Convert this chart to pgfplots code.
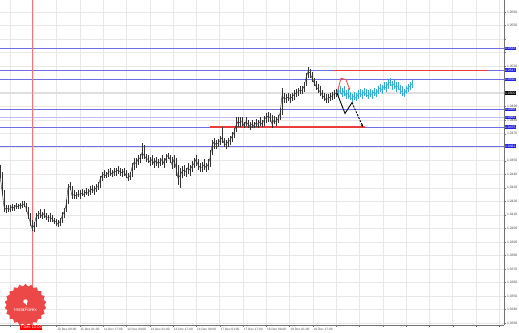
\documentclass[border=0pt]{standalone}
\usepackage{pgfplots}
\pgfplotsset{compat=1.18}
\usepackage{pgfplotstable}
\usepackage{fontspec}
\setmainfont{Liberation Sans}
\usetikzlibrary{arrows.meta,shapes.geometric}
\definecolor{lvl}{RGB}{110,110,235}
\definecolor{boxblue}{RGB}{35,35,225}
\definecolor{redln}{RGB}{235,60,60}
\definecolor{redfc}{RGB}{240,80,80}
\definecolor{cyanfc}{RGB}{55,170,205}
\definecolor{gridc}{RGB}{232,232,232}
\definecolor{logo}{RGB}{236,72,72}
\definecolor{vred}{RGB}{240,120,120}
\newcommand\bb[1]{{\setlength{\fboxsep}{0.6bp}\colorbox{boxblue}{\textcolor{white}{#1}}}}
\newcommand\kb[1]{{\setlength{\fboxsep}{0.6bp}\colorbox{black}{\textcolor{white}{#1}}}}

\pgfplotstableread{
x c h l
0 1.0439 1.0447 1.0437
2 1.0428 1.0442 1.0425
4 1.0416 1.0428 1.0412
6 1.0414 1.0417 1.0411
8 1.0415 1.0417 1.0412
10 1.0414 1.0417 1.0412
12 1.0416 1.0418 1.0413
14 1.0415 1.0417 1.0413
16 1.0417 1.0419 1.0414
18 1.0416 1.0418 1.0414
20 1.0417 1.0419 1.0414
22 1.0417 1.0420 1.0415
24 1.0418 1.0420 1.0416
26 1.0415 1.0419 1.0412
28 1.0410 1.0416 1.0407
30 1.0405 1.0411 1.0402
32 1.0400 1.0406 1.0398
34 1.0402 1.0405 1.0397
36 1.0408 1.0411 1.0401
38 1.0410 1.0413 1.0407
40 1.0411 1.0414 1.0408
42 1.0409 1.0412 1.0407
44 1.0411 1.0414 1.0408
46 1.0408 1.0411 1.0406
48 1.0408 1.0410 1.0405
50 1.0408 1.0411 1.0405
52 1.0407 1.0410 1.0405
54 1.0405 1.0408 1.0403
56 1.0405 1.0407 1.0402
58 1.0403 1.0406 1.0401
60 1.0405 1.0408 1.0402
62 1.0409 1.0412 1.0404
64 1.0412 1.0415 1.0408
66 1.0417 1.0421 1.0412
68 1.0430 1.0433 1.0418
70 1.0431 1.0434 1.0428
72 1.0424 1.0431 1.0422
74 1.0425 1.0428 1.0422
76 1.0424 1.0427 1.0422
78 1.0425 1.0428 1.0423
80 1.0425 1.0428 1.0422
82 1.0426 1.0429 1.0424
84 1.0425 1.0428 1.0423
86 1.0427 1.0430 1.0425
88 1.0426 1.0429 1.0424
90 1.0428 1.0431 1.0425
92 1.0429 1.0432 1.0426
94 1.0428 1.0431 1.0425
96 1.0430 1.0433 1.0427
98 1.0431 1.0434 1.0428
100 1.0436 1.0439 1.0430
102 1.0439 1.0442 1.0435
104 1.0440 1.0443 1.0437
106 1.0439 1.0442 1.0437
108 1.0441 1.0444 1.0438
110 1.0442 1.0445 1.0439
112 1.0440 1.0443 1.0438
114 1.0442 1.0445 1.0439
116 1.0442 1.0445 1.0439
118 1.0443 1.0446 1.0440
120 1.0442 1.0445 1.0439
122 1.0441 1.0444 1.0438
124 1.0442 1.0445 1.0439
126 1.0439 1.0443 1.0437
128 1.0437 1.0441 1.0435
130 1.0439 1.0442 1.0436
132 1.0445 1.0448 1.0438
134 1.0449 1.0452 1.0443
136 1.0448 1.0452 1.0445
138 1.0451 1.0454 1.0447
140 1.0452 1.0455 1.0448
142 1.0456 1.0463 1.0451
144 1.0454 1.0462 1.0451
146 1.0452 1.0455 1.0449
148 1.0451 1.0454 1.0448
150 1.0449 1.0453 1.0446
152 1.0451 1.0454 1.0447
154 1.0448 1.0452 1.0445
156 1.0450 1.0453 1.0446
158 1.0448 1.0451 1.0445
160 1.0449 1.0452 1.0446
162 1.0451 1.0454 1.0447
164 1.0448 1.0452 1.0445
166 1.0452 1.0455 1.0448
168 1.0454 1.0456 1.0451
170 1.0451 1.0454 1.0448
172 1.0447 1.0453 1.0444
174 1.0451 1.0454 1.0445
176 1.0445 1.0452 1.0439
178 1.0437 1.0447 1.0432
180 1.0439 1.0445 1.0430
182 1.0442 1.0446 1.0437
184 1.0443 1.0447 1.0439
186 1.0442 1.0445 1.0438
188 1.0445 1.0448 1.0440
190 1.0443 1.0447 1.0439
192 1.0446 1.0450 1.0442
194 1.0448 1.0452 1.0445
196 1.0451 1.0454 1.0446
198 1.0447 1.0451 1.0443
200 1.0445 1.0448 1.0442
202 1.0445 1.0449 1.0442
204 1.0447 1.0451 1.0443
206 1.0445 1.0448 1.0442
208 1.0447 1.0451 1.0443
210 1.0452 1.0458 1.0445
212 1.0461 1.0465 1.0454
214 1.0464 1.0467 1.0459
216 1.0462 1.0465 1.0459
218 1.0463 1.0466 1.0460
220 1.0465 1.0468 1.0462
222 1.0467 1.0475 1.0463
224 1.0463 1.0467 1.0460
226 1.0462 1.0465 1.0459
228 1.0464 1.0467 1.0460
230 1.0465 1.0468 1.0462
232 1.0468 1.0471 1.0464
234 1.0471 1.0474 1.0467
236 1.0476 1.0482 1.0471
238 1.0479 1.0482 1.0475
240 1.0478 1.0482 1.0475
242 1.0479 1.0482 1.0476
244 1.0476 1.0479 1.0474
246 1.0479 1.0482 1.0476
248 1.0477 1.0480 1.0474
250 1.0476 1.0479 1.0473
252 1.0477 1.0480 1.0474
254 1.0476 1.0479 1.0474
256 1.0478 1.0481 1.0475
258 1.0477 1.0480 1.0474
260 1.0479 1.0482 1.0476
262 1.0477 1.0480 1.0475
264 1.0480 1.0483 1.0476
266 1.0482 1.0485 1.0478
268 1.0483 1.0486 1.0479
270 1.0482 1.0485 1.0479
272 1.0477 1.0484 1.0474
274 1.0480 1.0483 1.0477
276 1.0479 1.0482 1.0476
278 1.0481 1.0484 1.0478
280 1.0485 1.0489 1.0480
282 1.0498 1.0504 1.0484
284 1.0496 1.0500 1.0493
286 1.0496 1.0499 1.0493
288 1.0497 1.0500 1.0494
290 1.0496 1.0499 1.0493
292 1.0497 1.0500 1.0494
294 1.0499 1.0502 1.0495
296 1.0500 1.0503 1.0497
298 1.0501 1.0504 1.0498
300 1.0502 1.0505 1.0499
302 1.0502 1.0505 1.0499
304 1.0505 1.0508 1.0501
306 1.0511 1.0515 1.0505
308 1.0516 1.0519 1.0511
310 1.0515 1.0518 1.0511
312 1.0511 1.0516 1.0508
314 1.0508 1.0511 1.0505
316 1.0505 1.0509 1.0502
318 1.0503 1.0507 1.0500
320 1.0501 1.0505 1.0498
322 1.0499 1.0502 1.0496
324 1.0497 1.0500 1.0494
326 1.0495 1.0499 1.0493
328 1.0496 1.0499 1.0493
330 1.0497 1.0500 1.0494
332 1.0498 1.0501 1.0495
334 1.0499 1.0502 1.0496
336 1.0500 1.0503 1.0497
338 1.0500 1.0502 1.0499
}\pricedata

\pgfplotstableread{
x c h l
338 1.0500 1.0504 1.0498
340 1.0502 1.0505 1.0499
342 1.0499 1.0504 1.0497
344 1.0502 1.0505 1.0498
346 1.0498 1.0502 1.0496
348 1.0500 1.0503 1.0496
350 1.0497 1.0501 1.0495
352 1.0496 1.0499 1.0493
354 1.0498 1.0501 1.0495
356 1.0496 1.0500 1.0494
358 1.0499 1.0502 1.0496
360 1.0500 1.0503 1.0497
362 1.0499 1.0502 1.0496
364 1.0501 1.0504 1.0498
366 1.0499 1.0503 1.0497
368 1.0498 1.0502 1.0496
370 1.0500 1.0503 1.0497
372 1.0499 1.0502 1.0496
374 1.0501 1.0504 1.0498
376 1.0499 1.0503 1.0497
378 1.0502 1.0505 1.0499
380 1.0504 1.0507 1.0501
382 1.0502 1.0506 1.0499
384 1.0505 1.0508 1.0502
386 1.0504 1.0508 1.0501
388 1.0507 1.0510 1.0503
390 1.0508 1.0511 1.0505
392 1.0505 1.0509 1.0502
394 1.0507 1.0510 1.0503
396 1.0504 1.0508 1.0501
398 1.0505 1.0508 1.0502
400 1.0502 1.0506 1.0499
402 1.0501 1.0505 1.0498
404 1.0499 1.0503 1.0497
406 1.0502 1.0505 1.0499
408 1.0504 1.0507 1.0501
410 1.0505 1.0508 1.0502
412 1.0507 1.0510 1.0504
}\forecast

\begin{document}
\begin{tikzpicture}
\begin{axis}[
  scale only axis, width=504bp, height=325bp,
  xmin=0, xmax=504, ymin=1.03285, ymax=1.05689,
  axis x line*=bottom, axis y line*=right,
  axis line style={draw=black!55, line width=0.6bp},
  grid=major, major grid style={draw=gridc, line width=0.5bp},
  tick align=outside, major tick length=2bp,
  tick style={draw=black!55, line width=0.4bp},
  ytick={1.0330,1.0340,1.0350,1.0360,1.0370,1.0380,1.0390,1.0400,1.0410,1.0420,1.0430,1.0440,1.0450,1.0460,1.0470,1.0480,1.0490,1.0500,1.0510,1.0520,1.0530,1.0540,1.0550,1.0560},
  yticklabels={1.0330,1.0340,1.0350,1.0360,1.0370,1.0380,1.0390,1.0400,1.0410,1.0420,1.0430,1.0440,1.0450,,1.0470,1.0480,1.0490,,,1.0520,,,1.0550,1.0560},
  y tick label style={font=\fontsize{3.4}{4}\selectfont, text=black!70, inner sep=0.8bp},
  xtick={10,33.3,56.6,79.9,103.2,126.5,149.8,173.1,196.4,219.7,243,266.3,289.6,312.9,336.2,359.5,382.8,406.1,429.4,452.7,476,499.3},
  xticklabels={,,10 Dec 09:00,11 Dec 01:00,11 Dec 17:00,12 Dec 09:00,13 Dec 01:00,13 Dec 17:00,14 Dec 09:00,17 Dec 01:00,17 Dec 17:00,18 Dec 09:00,19 Dec 01:00,19 Dec 17:00,,,,,,,,},
  x tick label style={font=\fontsize{3.2}{4}\selectfont, text=black!70, anchor=north west, inner sep=0.6bp},
  extra y ticks={1.0533,1.0517,1.0510,1.0500,1.0488,1.0482,1.0475,1.0461},
  extra y tick labels={\bb{1.0533},\bb{1.0517},\bb{1.0510},\kb{1.0500},\bb{1.0488},\bb{1.0482},\bb{1.0475},\bb{1.0461}},
  extra y tick style={grid=none, major tick length=0pt, y tick label style={inner sep=0pt, xshift=0.3bp}},
  extra x ticks={31},
  extra x tick labels={{\setlength{\fboxsep}{0.7bp}\colorbox{red}{\textcolor{white}{\fontsize{4}{4.5}\selectfont 7 Dec 13:00}}}},
  extra x tick style={grid=none, major tick length=0pt, x tick label style={anchor=north, inner sep=0.3bp}},
]
% current price line
\addplot[draw=black!13, line width=1.6bp, forget plot] coordinates {(0,1.0500) (504,1.0500)};
% blue levels
\addplot[lvl, line width=0.7bp] coordinates {(0,1.0533) (504,1.0533)};
\addplot[lvl, line width=0.7bp] coordinates {(0,1.0517) (504,1.0517)};
\addplot[lvl, line width=0.7bp] coordinates {(0,1.0510) (504,1.0510)};
\addplot[lvl, line width=0.7bp] coordinates {(0,1.0488) (504,1.0488)};
\addplot[lvl!45, line width=0.9bp] coordinates {(0,1.0482) (504,1.0482)};
\addplot[lvl, line width=0.7bp] coordinates {(0,1.0475) (504,1.0475)};
\addplot[lvl, line width=0.7bp] coordinates {(0,1.0461) (504,1.0461)};
% red levels
\addplot[redln, line width=1.3bp] coordinates {(333,1.0517) (488,1.0517)};
\addplot[redln, line width=1.3bp] coordinates {(210,1.0475) (365,1.0475)};
% crosshair vertical
\addplot[vred, line width=0.6bp] coordinates {(32,1.0320) (32,1.0580)};
% price candles
\addplot[black!85, line width=0.4bp, mark=none,
  error bars/.cd, y dir=both, y explicit, error mark=none,
  error bar style={line width=0.8bp, black!80}]
  table[x=x, y=c, y error plus expr=\thisrow{h}-\thisrow{c}, y error minus expr=\thisrow{c}-\thisrow{l}] {\pricedata};
% forecast candles
\addplot[cyanfc, line width=0.5bp, mark=none,
  error bars/.cd, y dir=both, y explicit, error mark=none,
  error bar style={line width=0.9bp, cyanfc}]
  table[x=x, y=c, y error plus expr=\thisrow{h}-\thisrow{c}, y error minus expr=\thisrow{c}-\thisrow{l}] {\forecast};
% scenario arrows
\addplot[redfc, line width=0.9bp, -{Stealth[length=3bp,width=2.5bp]}] coordinates {(337,1.0500) (341,1.0511) (346,1.0510) (350,1.0502)};
\addplot[black, line width=0.9bp] coordinates {(337,1.0500) (345,1.0485) (352,1.0493)};
\addplot[black, line width=0.9bp, dashed, dash pattern=on 2bp off 1.2bp, -{Stealth[length=3bp,width=2.5bp]}] coordinates {(352,1.0493) (363,1.0475)};
\end{axis}
\node[star, star points=22, star point ratio=1.12, fill=logo, draw=none, minimum size=42bp, inner sep=0pt] (lg) at ([xshift=25.5bp, yshift=20bp]current axis.south west) {};
\fill[white] ([yshift=3.5bp]lg.center) circle (2.2bp);
\fill[white] ([yshift=0.3bp]lg.center) rectangle ++(0.6bp,2.5bp);
\node[text=white, font=\fontsize{4.8}{5}\selectfont, inner sep=0pt] at ([yshift=-5bp]lg.center) {InstaForex};
\pgfresetboundingbox
\path[use as bounding box] ([yshift=-8bp]current axis.south west) rectangle ([xshift=15bp]current axis.north east);
\end{tikzpicture}
\end{document}
